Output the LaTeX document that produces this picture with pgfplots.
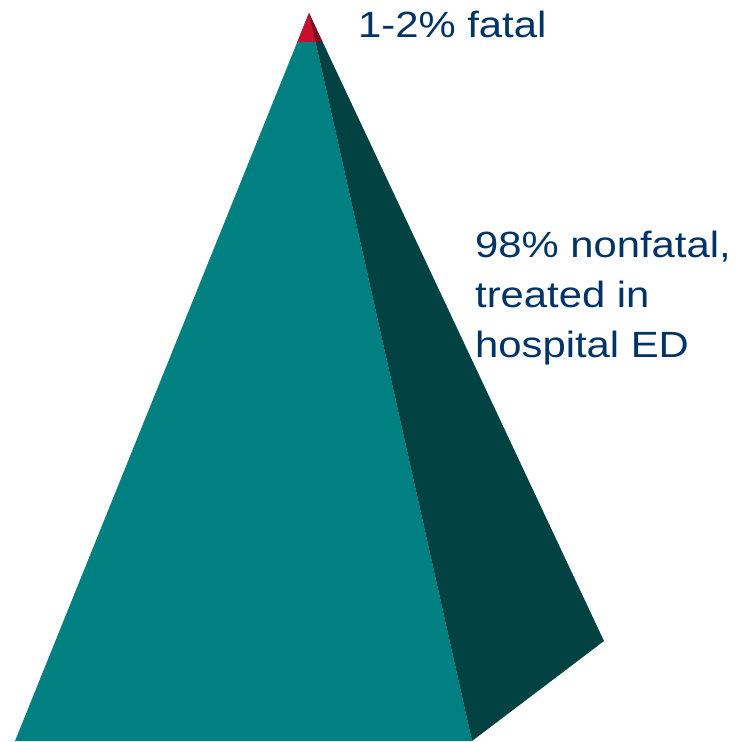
\documentclass[border=0pt]{standalone}
\usepackage{pgfplots}
\pgfplotsset{compat=1.18}
\usepackage{fontspec}
\setmainfont{Liberation Sans}
\newfontfamily\wide[FakeStretch=1.145]{Liberation Sans}
\definecolor{tealfront}{RGB}{0,128,128}
\definecolor{tealside}{RGB}{3,66,66}
\definecolor{redfront}{RGB}{200,16,46}
\definecolor{redside}{RGB}{130,10,30}
\definecolor{txtblue}{RGB}{0,51,102}
\begin{document}
\begin{tikzpicture}[x=1pt,y=1pt]
\begin{axis}[
  hide axis, scale only axis, width=743pt, height=741pt,
  xmin=0, xmax=743, ymin=0, ymax=741, y dir=reverse, clip=false]
% invisible frame to fix the bounding box
\addplot[draw=none, forget plot] coordinates {(0,0) (743,741)};
% front face
\addplot[fill=tealfront, draw=none] coordinates {(309,13) (15,741) (472,741)};
% right face
\addplot[fill=tealside, draw=none] coordinates {(309,13) (472,741) (604,641)};
% red tip front
\addplot[fill=redfront, draw=none] coordinates {(309,13) (297.3,42) (315.5,42)};
% red tip side
\addplot[fill=redside, draw=none] coordinates {(309,13) (315.5,42) (322.6,42)};
\node[anchor=base west, inner sep=0pt, text=txtblue, font=\wide\fontsize{36.5}{50}\selectfont] at (axis cs:358,38) {1-2\% fatal};
\node[anchor=base west, inner sep=0pt, text=txtblue, font=\wide\fontsize{36.5}{50}\selectfont] at (axis cs:475,257) {98\% nonfatal,};
\node[anchor=base west, inner sep=0pt, text=txtblue, font=\wide\fontsize{36.5}{50}\selectfont] at (axis cs:475,307) {treated in};
\node[anchor=base west, inner sep=0pt, text=txtblue, font=\wide\fontsize{36.5}{50}\selectfont] at (axis cs:475,357) {hospital ED};
\end{axis}
\end{tikzpicture}
\end{document}
